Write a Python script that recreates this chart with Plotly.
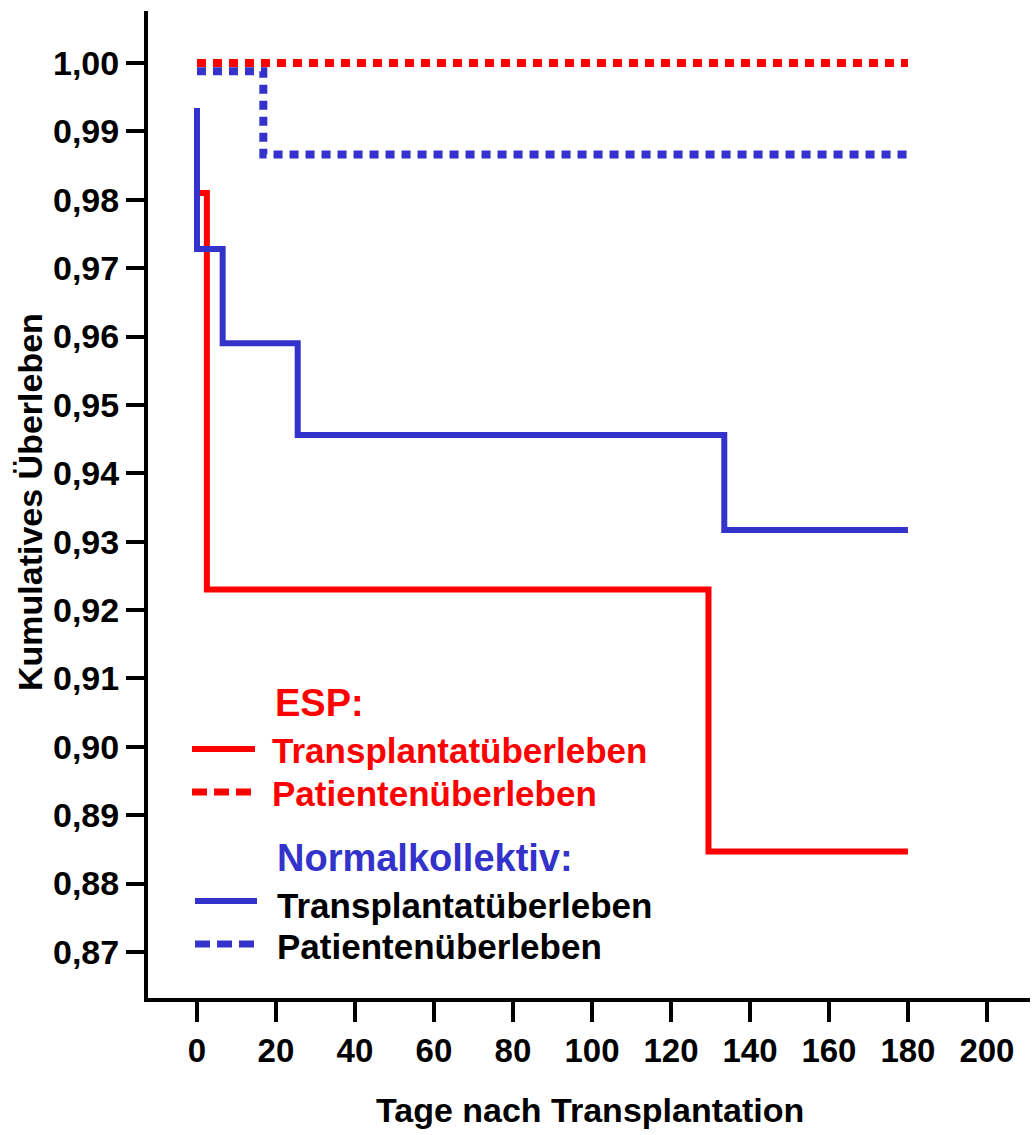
import plotly.graph_objects as go

# ---- data ----
esp_graft_days = [0, 2.5, 129.5, 180]
esp_graft_surv = [0.981, 0.923, 0.8847, 0.8847]

esp_patient_days = [0, 180]
esp_patient_surv = [1.0, 1.0]

norm_graft_days = [0, 0, 6.5, 25.5, 133.5, 180]
norm_graft_surv = [0.9934, 0.9728, 0.959, 0.9456, 0.9317, 0.9317]

norm_patient_days = [0, 16.8, 180]
norm_patient_surv = [0.9988, 0.9866, 0.9866]

x_ticks = [0, 20, 40, 60, 80, 100, 120, 140, 160, 180, 200]
y_ticks = [0.87, 0.88, 0.89, 0.90, 0.91, 0.92, 0.93, 0.94, 0.95, 0.96, 0.97, 0.98, 0.99, 1.00]

RED = "#FF0000"
BLUE = "#3333CC"
FONT = "Arial, Liberation Sans, sans-serif"

W, H = 1032, 1135
L, R, T, B = 148, 1030, 11, 998


def px(x):
    return (x - L) / (R - L)


def py(y):
    return 1 - (y - T) / (B - T)


fig = go.Figure()
fig.add_trace(go.Scatter(x=esp_graft_days, y=esp_graft_surv, mode="lines",
                         line=dict(color=RED, width=6, shape="hv"), showlegend=False))
fig.add_trace(go.Scatter(x=esp_patient_days, y=esp_patient_surv, mode="lines",
                         line=dict(color=RED, width=8, shape="hv", dash="9px,7px"), showlegend=False))
fig.add_trace(go.Scatter(x=norm_graft_days, y=norm_graft_surv, mode="lines",
                         line=dict(color=BLUE, width=6, shape="hv"), showlegend=False))
fig.add_trace(go.Scatter(x=norm_patient_days, y=norm_patient_surv, mode="lines",
                         line=dict(color=BLUE, width=8, shape="hv", dash="9px,7px"), showlegend=False))

annotations = [
    dict(text="<b>Tage nach Transplantation</b>", x=px(590), y=py(1110), font=dict(size=34, color="black"),
         xanchor="center", yanchor="middle"),
    dict(text="<b>Kumulatives Überleben</b>", x=px(30), y=py(502), font=dict(size=34, color="black"),
         xanchor="center", yanchor="middle", textangle=-90),
    dict(text="<b>ESP:</b>", x=px(273), y=py(703), font=dict(size=38, color=RED), xanchor="left", yanchor="middle"),
    dict(text="<b>Transplantatüberleben</b>", x=px(270), y=py(750), font=dict(size=35, color=RED),
         xanchor="left", yanchor="middle"),
    dict(text="<b>Patientenüberleben</b>", x=px(270), y=py(793), font=dict(size=35, color=RED),
         xanchor="left", yanchor="middle"),
    dict(text="<b>Normalkollektiv:</b>", x=px(275), y=py(858), font=dict(size=38, color=BLUE),
         xanchor="left", yanchor="middle"),
    dict(text="<b>Transplantatüberleben</b>", x=px(275), y=py(905), font=dict(size=35, color="black"),
         xanchor="left", yanchor="middle"),
    dict(text="<b>Patientenüberleben</b>", x=px(275), y=py(946), font=dict(size=35, color="black"),
         xanchor="left", yanchor="middle"),
]
for a in annotations:
    a.update(xref="paper", yref="paper", showarrow=False)

shapes = [
    dict(x0=px(192), x1=px(255), y0=py(749), y1=py(749), line=dict(color=RED, width=6)),
    dict(x0=px(192), x1=px(253), y0=py(792), y1=py(792), line=dict(color=RED, width=7, dash="15px,7px")),
    dict(x0=px(195), x1=px(257), y0=py(901), y1=py(901), line=dict(color=BLUE, width=6)),
    dict(x0=px(195), x1=px(256), y0=py(944), y1=py(944), line=dict(color=BLUE, width=7, dash="15px,7px")),
]
for s in shapes:
    s.update(type="line", xref="paper", yref="paper")

fig.update_layout(
    width=W, height=H,
    margin=dict(l=L, r=W - R, t=T, b=H - B, pad=0),
    paper_bgcolor="white", plot_bgcolor="white",
    separators=",.",
    font=dict(family=FONT, color="black"),
    annotations=annotations,
    shapes=shapes,
    showlegend=False,
)
fig.update_xaxes(range=[-12.4, 210.9], tickvals=x_ticks, ticktext=[f"<b>{v}</b>" for v in x_ticks],
                 showgrid=False, zeroline=False, showline=True, linecolor="black", linewidth=4,
                 ticks="outside", ticklen=20, tickwidth=4, tickcolor="black",
                 tickfont=dict(size=33, family=FONT, color="black"))
fig.update_yaxes(range=[0.86327, 1.0076], tickvals=y_ticks,
                 ticktext=[f"<b>{v:.2f}</b>".replace(".", ",") for v in y_ticks],
                 showgrid=False, zeroline=False, showline=True, linecolor="black", linewidth=4,
                 ticks="outside", ticklen=18, tickwidth=4, tickcolor="black",
                 tickfont=dict(size=34, family=FONT, color="black"))

fig.write_html("out.html")
